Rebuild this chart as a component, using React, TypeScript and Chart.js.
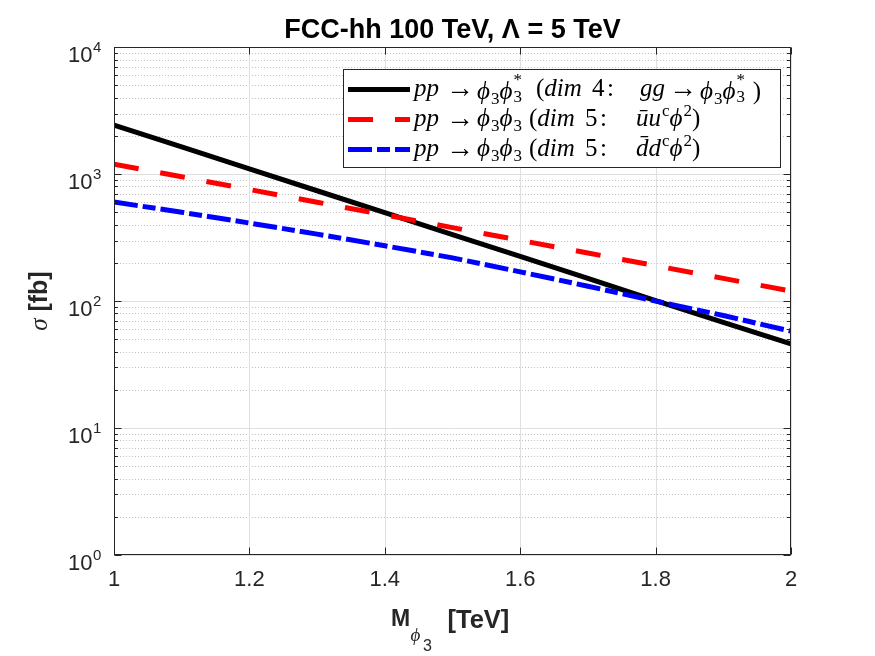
import React, { useEffect, useRef } from 'react';
import { Chart, registerables } from 'chart.js';

Chart.register(...registerables);

// ---- data ----
const masses = [1.0, 1.1, 1.2, 1.3, 1.4, 1.5, 1.6, 1.7, 1.8, 1.9, 2.0];
const sigmaDim4 = [2430, 1640, 1100, 740, 497, 334, 225, 151, 101, 68, 46];
const sigmaDim5u = [1200, 953, 757, 601, 478, 379, 301, 239, 190, 151, 120];
const sigmaDim5d = [603, 501, 412, 337, 273, 219, 170, 131, 100, 77, 58];
const xTicks = [1, 1.2, 1.4, 1.6, 1.8, 2];
const yDecades = [1, 10, 100, 1000, 10000];
const yExponents = ['0', '1', '2', '3', '4'];
const titleText = 'FCC-hh 100 TeV, \u039B = 5 TeV';

const AXIS = '#262626';
const SANS = '"Liberation Sans", Arial, Helvetica, sans-serif';
const SERIF = '"Liberation Serif", "Times New Roman", serif';

const decor = {
  id: 'matlabDecor',
  beforeDraw(chart: any) {
    const { ctx, width, height } = chart;
    ctx.save();
    ctx.fillStyle = '#ffffff';
    ctx.fillRect(0, 0, width, height);
    ctx.restore();
  },
  beforeDatasetsDraw(chart: any) {
    const { ctx, chartArea: a, scales } = chart;
    const x = scales.x;
    const y = scales.y;
    ctx.save();
    ctx.lineWidth = 1;
    ctx.strokeStyle = '#c2c2c2';
    ctx.setLineDash([1, 2]);
    for (let d = 0; d < yDecades.length - 1; d++) {
      for (let k = 2; k <= 9; k++) {
        const py = Math.round(y.getPixelForValue(yDecades[d] * k)) + 0.5;
        ctx.beginPath();
        ctx.moveTo(a.left, py);
        ctx.lineTo(a.right, py);
        ctx.stroke();
      }
    }
    ctx.setLineDash([]);
    ctx.strokeStyle = '#dfdfdf';
    xTicks.forEach((v) => {
      const px = Math.round(x.getPixelForValue(v)) + 0.5;
      ctx.beginPath();
      ctx.moveTo(px, a.top);
      ctx.lineTo(px, a.bottom);
      ctx.stroke();
    });
    yDecades.forEach((v) => {
      const py = Math.round(y.getPixelForValue(v)) + 0.5;
      ctx.beginPath();
      ctx.moveTo(a.left, py);
      ctx.lineTo(a.right, py);
      ctx.stroke();
    });
    ctx.restore();
  },
  afterDatasetsDraw(chart: any) {
    const { ctx, chartArea: a, scales } = chart;
    const x = scales.x;
    const y = scales.y;
    ctx.save();
    ctx.strokeStyle = AXIS;
    ctx.lineWidth = 1;
    ctx.setLineDash([]);
    const L = Math.round(a.left) + 0.5;
    const R = Math.round(a.right) - 0.5;
    const T = Math.round(a.top) + 0.5;
    const B = Math.round(a.bottom) - 0.5;
    ctx.strokeRect(L, T, R - L, B - T);
    xTicks.forEach((v) => {
      const px = Math.round(x.getPixelForValue(v)) + 0.5;
      ctx.beginPath();
      ctx.moveTo(px, B);
      ctx.lineTo(px, B - 7);
      ctx.moveTo(px, T);
      ctx.lineTo(px, T + 7);
      ctx.stroke();
    });
    yDecades.forEach((v) => {
      const py = Math.round(y.getPixelForValue(v)) + 0.5;
      ctx.beginPath();
      ctx.moveTo(L, py);
      ctx.lineTo(L + 7, py);
      ctx.moveTo(R, py);
      ctx.lineTo(R - 7, py);
      ctx.stroke();
    });
    for (let d = 0; d < yDecades.length - 1; d++) {
      for (let k = 2; k <= 9; k++) {
        const py = Math.round(y.getPixelForValue(yDecades[d] * k)) + 0.5;
        ctx.beginPath();
        ctx.moveTo(L, py);
        ctx.lineTo(L + 3.5, py);
        ctx.moveTo(R, py);
        ctx.lineTo(R - 3.5, py);
        ctx.stroke();
      }
    }
    // y tick labels 10^n
    ctx.fillStyle = AXIS;
    ctx.textBaseline = 'alphabetic';
    yDecades.forEach((v, i) => {
      const py = y.getPixelForValue(v);
      ctx.font = `22px ${SANS}`;
      ctx.textAlign = 'right';
      ctx.fillText('10', 92.5, py + 15);
      ctx.font = `15px ${SANS}`;
      ctx.textAlign = 'left';
      ctx.fillText(yExponents[i], 93, py + 4.5);
    });
    // x axis title: M_{phi_3} [TeV]
    const cx = (a.left + a.right) / 2;
    ctx.textAlign = 'left';
    ctx.font = `bold 23px ${SANS}`;
    ctx.fillText('M', cx - 61.5, 626);
    ctx.font = `italic 19px ${SERIF}`;
    ctx.fillText('\u03D5', cx - 42, 641);
    ctx.font = `16px ${SANS}`;
    ctx.fillText('3', cx - 29.5, 651);
    ctx.font = `bold 25.5px ${SANS}`;
    ctx.fillText('[TeV]', cx - 5, 628);
    // y axis title: sigma [fb]
    const cy = (a.top + a.bottom) / 2;
    ctx.save();
    ctx.translate(47, cy);
    ctx.rotate(-Math.PI / 2);
    ctx.font = `italic 25px ${SERIF}`;
    const sw = ctx.measureText('\u03C3').width;
    ctx.font = `bold 25px ${SANS}`;
    const fw = ctx.measureText(' [fb]').width;
    const start = -(sw + fw) / 2;
    ctx.font = `italic 25px ${SERIF}`;
    ctx.fillText('\u03C3', start, 0);
    ctx.font = `bold 25px ${SANS}`;
    ctx.fillText(' [fb]', start + sw, 0);
    ctx.restore();
    ctx.restore();
  },
  afterDraw(chart: any) {
    const { ctx } = chart;
    const bx = 343, by = 69, bw = 437, bh = 98;
    ctx.save();
    ctx.fillStyle = '#ffffff';
    ctx.fillRect(bx, by, bw, bh);
    ctx.strokeStyle = AXIS;
    ctx.lineWidth = 1;
    ctx.strokeRect(bx + 0.5, by + 0.5, bw, bh);
    const rows = [89.5, 119.5, 149.5];
    chart.data.datasets.forEach((ds: any, i: number) => {
      ctx.beginPath();
      ctx.strokeStyle = ds.borderColor;
      ctx.lineWidth = ds.borderWidth;
      ctx.lineCap = 'butt';
      ctx.setLineDash(ds.borderDash || []);
      ctx.lineDashOffset = 0;
      ctx.moveTo(348, rows[i]);
      ctx.lineTo(410, rows[i]);
      ctx.stroke();
    });
    ctx.restore();
  },
};

const sub = (t: string) => (
  <span style={{ fontSize: 17, position: 'relative', top: 5, marginLeft: 1 }}>{t}</span>
);
const sup = (t: string) => (
  <span style={{ fontSize: 17, position: 'relative', top: -10, marginLeft: 1 }}>{t}</span>
);
const subsup = (b: string, p: string) => (
  <span style={{ display: 'inline-block', position: 'relative', width: 11, height: 24 }}>
    <span style={{ position: 'absolute', left: 1, top: -4, fontSize: 17, lineHeight: '18px' }}>{p}</span>
    <span style={{ position: 'absolute', left: 1, top: 13, fontSize: 17, lineHeight: '18px' }}>{b}</span>
  </span>
);
const I = (t: string) => <i>{t}</i>;
const PHI = '\u03D5';

const Seg = ({ left, children, size }: { left: number; children: React.ReactNode; size?: number }) => (
  <span style={{ position: 'absolute', left, top: 0, whiteSpace: 'pre', fontSize: size }}>{children}</span>
);

export default function App() {
  const ref = useRef<HTMLCanvasElement>(null);
  useEffect(() => {
    const canvas = ref.current;
    if (!canvas) return;
    const mk = (vals: number[]) => masses.map((m, i) => ({ x: m, y: vals[i] }));
    const chart = new Chart(canvas, {
      type: 'line',
      data: {
        datasets: [
          {
            label: 'pp → ϕ3ϕ3* (dim 4: gg → ϕ3ϕ3*)',
            data: mk(sigmaDim4),
            borderColor: '#000000',
            borderWidth: 5,
            pointRadius: 0,
            order: 3,
            borderCapStyle: 'butt',
            borderJoinStyle: 'round',
          },
          {
            label: 'pp → ϕ3ϕ3 (dim 5: ūu^c ϕ²)',
            data: mk(sigmaDim5u),
            borderColor: '#ff0000',
            borderWidth: 5,
            borderDash: [25, 22],
            pointRadius: 0,
            order: 2,
            borderCapStyle: 'butt',
          },
          {
            label: 'pp → ϕ3ϕ3 (dim 5: d̄d^c ϕ²)',
            data: mk(sigmaDim5d),
            borderColor: '#0000ff',
            borderWidth: 5,
            borderDash: [24, 5, 13, 5],
            pointRadius: 0,
            order: 1,
            borderCapStyle: 'butt',
          },
        ],
      } as any,
      options: {
        responsive: false,
        animation: false,
        devicePixelRatio: 1,
        layout: { padding: { left: 0, right: 84, top: 0, bottom: 0 } },
        plugins: {
          legend: { display: false },
          tooltip: { enabled: false },
          title: {
            display: true,
            text: titleText,
            color: '#000000',
            fullSize: false,
            font: { family: SANS, size: 27, weight: 'bold' },
            padding: { top: 14.8, bottom: 0 },
          },
        },
        scales: {
          x: {
            type: 'linear',
            min: 1,
            max: 2,
            afterBuildTicks: (s: any) => {
              s.ticks = xTicks.map((v) => ({ value: v }));
            },
            ticks: {
              callback: (v: any) => String(+Number(v).toFixed(1)),
              font: { family: SANS, size: 22 },
              color: AXIS,
              padding: 12,
              maxRotation: 0,
              autoSkip: false,
            },
            grid: { display: false, drawTicks: false },
            border: { display: false },
            afterFit: (s: any) => {
              s.height = 101;
            },
          },
          y: {
            type: 'logarithmic',
            min: 1,
            max: 10000,
            ticks: { display: false },
            grid: { display: false, drawTicks: false },
            border: { display: false },
            afterFit: (s: any) => {
              s.width = 114;
            },
          },
        },
      } as any,
      plugins: [decor],
    });
    return () => chart.destroy();
  }, []);

  const rowStyle = (top: number): React.CSSProperties => ({
    position: 'absolute',
    left: 0,
    top,
    width: 875,
    height: 26,
    lineHeight: '26px',
    fontFamily: SERIF,
    fontSize: 25,
    color: '#000',
  });

  return (
    <div style={{ position: 'absolute', left: 0, top: 0, width: 875, height: 656, background: '#fff', overflow: 'hidden' }}>
      <canvas ref={ref} width={875} height={656} style={{ display: 'block', width: 875, height: 656 }} />
      <div style={rowStyle(75)}>
        <Seg left={414}>{I('pp')}</Seg>
        <Seg left={446} size={28}>→</Seg>
        <Seg left={477}>{I(PHI)}{sub('3')}{I(PHI)}{subsup('3', '*')}</Seg>
        <Seg left={536}>({I('dim')}</Seg>
        <Seg left={592}>4</Seg>
        <Seg left={607}>:</Seg>
        <Seg left={640}>{I('gg')}</Seg>
        <Seg left={669} size={28}>→</Seg>
        <Seg left={700}>{I(PHI)}{sub('3')}{I(PHI)}{subsup('3', '*')} )</Seg>
      </div>
      <div style={rowStyle(105)}>
        <Seg left={414}>{I('pp')}</Seg>
        <Seg left={446} size={28}>→</Seg>
        <Seg left={477}>{I(PHI)}{sub('3')}{I(PHI)}{sub('3')}</Seg>
        <Seg left={529}>({I('dim')}</Seg>
        <Seg left={585}>5</Seg>
        <Seg left={600}>:</Seg>
        <Seg left={636}>{I('\u016B')}{I('u')}{sup('c')}{I(PHI)}{sup('2')})</Seg>
      </div>
      <div style={rowStyle(135)}>
        <Seg left={414}>{I('pp')}</Seg>
        <Seg left={446} size={28}>→</Seg>
        <Seg left={477}>{I(PHI)}{sub('3')}{I(PHI)}{sub('3')}</Seg>
        <Seg left={529}>({I('dim')}</Seg>
        <Seg left={585}>5</Seg>
        <Seg left={600}>:</Seg>
        <Seg left={636}>{I('d\u0304')}{I('d')}{sup('c')}{I(PHI)}{sup('2')})</Seg>
      </div>
    </div>
  );
}
